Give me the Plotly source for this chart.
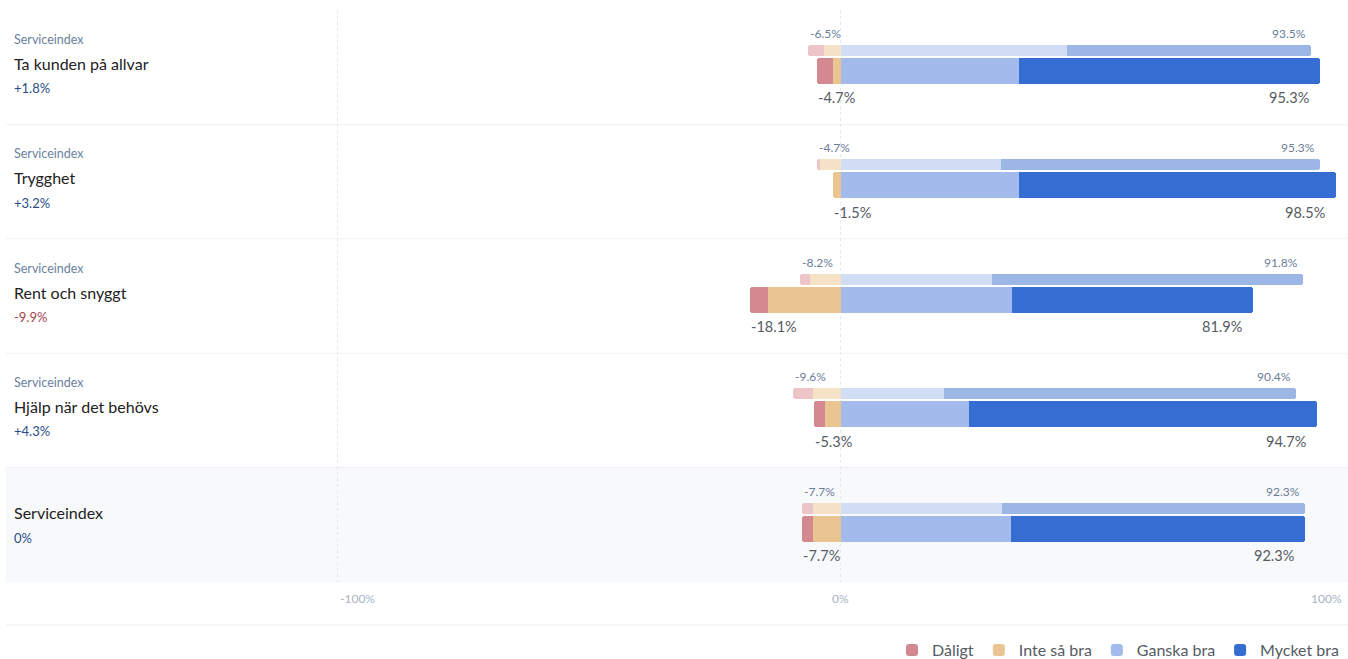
import plotly.graph_objects as go

rows = ["Ta kunden på allvar", "Trygghet", "Rent och snyggt", "Hjälp när det behövs", "Serviceindex"]
subtitles = ["Serviceindex", "Serviceindex", "Serviceindex", "Serviceindex", ""]
changes = ["+1.8%", "+3.2%", "-9.9%", "+4.3%", "0%"]

categories = ["Dåligt", "Inte så bra", "Ganska bra", "Mycket bra"]

# current period (thick bars)
cur_daligt = [3.1, 0.0, 3.6, 2.1, 2.1]
cur_inte = [1.6, 1.5, 14.5, 3.2, 5.6]
cur_ganska = [35.4, 35.4, 34.0, 25.4, 33.8]
cur_mycket = [59.9, 63.1, 47.9, 69.3, 58.5]
cur_neg_labels = ["-4.7%", "-1.5%", "-18.1%", "-5.3%", "-7.7%"]
cur_pos_labels = ["95.3%", "98.5%", "81.9%", "94.7%", "92.3%"]

# previous period (thin bars)
prev_daligt = [3.2, 0.6, 2.0, 4.0, 2.1]
prev_inte = [3.3, 4.1, 6.2, 5.6, 5.6]
prev_ganska = [44.9, 31.8, 30.0, 20.5, 32.0]
prev_mycket = [48.6, 63.5, 61.8, 69.9, 60.3]
prev_neg_labels = ["-6.5%", "-4.7%", "-8.2%", "-9.6%", "-7.7%"]
prev_pos_labels = ["93.5%", "95.3%", "91.8%", "90.4%", "92.3%"]

cur_colors = {"Dåligt": "#d4888f", "Inte så bra": "#ebc591", "Ganska bra": "#a3baec", "Mycket bra": "#356dd2"}
prev_colors = {"Dåligt": "#edc4c8", "Inte så bra": "#f5e2c7", "Ganska bra": "#d1ddf5", "Mycket bra": "#9cb6e6"}

FONT = "Lato, 'Open Sans', sans-serif"
n = len(rows)
idx = list(range(n))
thin_y = [i - 0.146 for i in idx]
thick_y = [i + 0.033 for i in idx]

cur = {"Dåligt": cur_daligt, "Inte så bra": cur_inte, "Ganska bra": cur_ganska, "Mycket bra": cur_mycket}
prev = {"Dåligt": prev_daligt, "Inte så bra": prev_inte, "Ganska bra": prev_ganska, "Mycket bra": prev_mycket}
negative = {"Dåligt", "Inte så bra"}

fig = go.Figure()
stack_order = ["Inte så bra", "Dåligt", "Ganska bra", "Mycket bra"]
for cat in stack_order:
    sign = -1 if cat in negative else 1
    fig.add_trace(go.Bar(
        x=[sign * v for v in prev[cat]], y=thin_y, orientation="h", width=0.096,
        marker=dict(color=prev_colors[cat], line=dict(width=0), cornerradius=3),
        showlegend=False, hoverinfo="skip", name=cat,
    ))
    fig.add_trace(go.Bar(
        x=[sign * v for v in cur[cat]], y=thick_y, orientation="h", width=0.227,
        marker=dict(color=cur_colors[cat], line=dict(width=0), cornerradius=5),
        showlegend=True, legendrank=categories.index(cat) + 1, name=cat, hoverinfo="skip",
    ))

LX = 0.0045
annotations = []
for i in idx:
    pn = prev_daligt[i] + prev_inte[i]
    pp = prev_ganska[i] + prev_mycket[i]
    cn = cur_daligt[i] + cur_inte[i]
    cp = cur_ganska[i] + cur_mycket[i]
    small = dict(size=12, color="#6a7d99", family=FONT)
    big = dict(size=14.5, color="#555b63", family=FONT)
    annotations += [
        dict(x=-pn, y=thin_y[i], text=prev_neg_labels[i], xanchor="left", yanchor="middle",
             xshift=0, yshift=17, showarrow=False, font=small),
        dict(x=pp, y=thin_y[i], text=prev_pos_labels[i], xanchor="right", yanchor="middle",
             xshift=-3, yshift=17, showarrow=False, font=small),
        dict(x=-cn, y=thick_y[i], text=cur_neg_labels[i], xanchor="left", yanchor="middle",
             xshift=-1, yshift=-27, showarrow=False, font=big),
        dict(x=cp, y=thick_y[i], text=cur_pos_labels[i], xanchor="right", yanchor="middle",
             xshift=-9, yshift=-27, showarrow=False, font=big),
    ]
    chg_color = "#a3464f" if changes[i].startswith("-") else "#2a4c86"
    if subtitles[i]:
        annotations += [
            dict(x=LX, xref="paper", y=i, text=subtitles[i], xanchor="left", yanchor="middle",
                 yshift=28, showarrow=False, font=dict(size=12.5, color="#6a7fa0", family=FONT)),
            dict(x=LX, xref="paper", y=i, text=rows[i], xanchor="left", yanchor="middle",
                 yshift=4, showarrow=False, font=dict(size=16, color="#222222", family=FONT)),
            dict(x=LX, xref="paper", y=i, text=changes[i], xanchor="left", yanchor="middle",
                 yshift=-21, showarrow=False, font=dict(size=13, color=chg_color, family=FONT)),
        ]
    else:
        annotations += [
            dict(x=LX, xref="paper", y=i, text=rows[i], xanchor="left", yanchor="middle",
                 yshift=12, showarrow=False, font=dict(size=16, color="#222222", family=FONT)),
            dict(x=LX, xref="paper", y=i, text=changes[i], xanchor="left", yanchor="middle",
                 yshift=-13, showarrow=False, font=dict(size=13, color=chg_color, family=FONT)),
        ]

tick_vals = [-100, 0, 100]
tick_texts = ["-100%", "0%", "100%"]
tick_anchor = ["left", "center", "right"]
for v, t, a in zip(tick_vals, tick_texts, tick_anchor):
    annotations.append(dict(x=v, y=0, yref="paper", text=t, xanchor=a, yanchor="middle",
                            yshift=-16, showarrow=False,
                            font=dict(size=12, color="#a7b2c2", family=FONT)))

shapes = [
    dict(type="rect", xref="paper", x0=0, x1=1.01, yref="y", y0=3.5, y1=4.5,
         fillcolor="#f8f9fb", line=dict(width=0), layer="below"),
]
for b in [0.5, 1.5, 2.5, 3.5, 4.5]:
    shapes.append(dict(type="line", xref="paper", x0=0, x1=1.01, yref="y", y0=b, y1=b,
                       line=dict(color="#eef0f3", width=1), layer="below"))
shapes.append(dict(type="line", xref="paper", x0=0, x1=1.01, yref="paper", y0=-0.075, y1=-0.075,
                   line=dict(color="#eceef2", width=1)))

fig.update_layout(
    width=1348, height=659,
    margin=dict(l=6, r=4, t=10, b=77, autoexpand=False),
    barmode="relative",
    plot_bgcolor="white", paper_bgcolor="white",
    font=dict(family=FONT),
    xaxis=dict(range=[-166, 100], tickvals=tick_vals, showticklabels=False, showgrid=True,
               gridcolor="#e4e7ec", griddash="dot", gridwidth=1, zeroline=False, fixedrange=True),
    yaxis=dict(range=[4.5, -0.5], showticklabels=False, showgrid=False, zeroline=False, fixedrange=True),
    annotations=annotations,
    shapes=shapes,
    legend=dict(orientation="h", x=1, xanchor="right", yref="container", y=(659 - 650) / 659,
                yanchor="middle",
                font=dict(size=16, color="#555b63", family=FONT), traceorder="normal",
                itemclick=False, itemdoubleclick=False),
    bargap=0,
)

fig.write_html("out.html", config={"displayModeBar": False},
               post_script="document.body.style.margin='0';document.body.style.overflow='hidden';")
